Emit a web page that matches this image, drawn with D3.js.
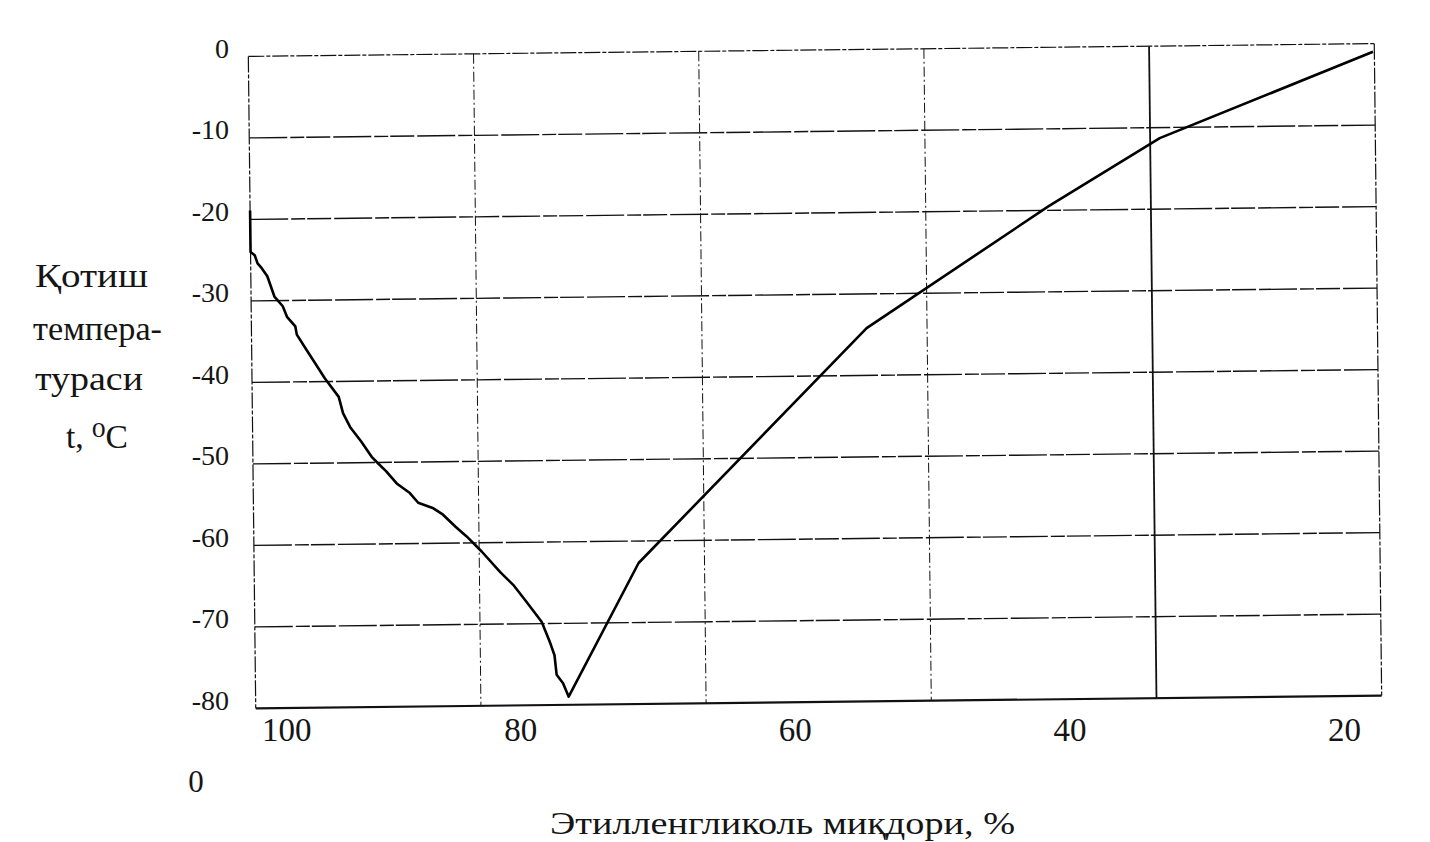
<!DOCTYPE html>
<html>
<head>
<meta charset="utf-8">
<script src="https://cdn.jsdelivr.net/npm/d3@7"></script>
<style>
  html, body { margin: 0; padding: 0; background: #fff; }
  svg { display: block; }
  text { font-family: "Liberation Serif", "DejaVu Serif", serif; fill: #151515; }
</style>
</head>
<body>
<svg id="chart" width="1430" height="842"></svg>
<script>
// ---- data ----
// Ethylene glycol content, % (x) and freezing temperature, °C (y)
const glycolPct = [100, 100, 99.7, 99.5, 99.2, 98.8, 98.3, 97.7, 97.4, 96.8, 96.7, 96.0, 95.4, 94.7,
  93.7, 93.4, 92.9, 92.1, 91.35, 90.9, 90.3, 89.55, 88.6, 88.0, 86.9, 86.2, 85.3, 84.5, 83.4,
  82.1, 81.15, 80.2, 79.1, 78.5, 78.2, 78.06, 77.6, 77.2, 72.0, 55.2, 41.9, 33.7, 18.1];
const freezeTemp = [-18.9, -24.0, -24.4, -25.4, -26.0, -27.0, -29.5, -30.7, -32.0, -33.2, -34.2, -36.1,
  -37.7, -39.6, -41.9, -43.9, -45.6, -47.4, -49.3, -50.1, -51.1, -52.6, -53.8, -55.0, -55.7, -56.5,
  -58.0, -59.2, -61.1, -63.6, -65.2, -67.3, -69.8, -72.4, -73.9, -76.3, -77.35, -79.0, -62.7, -34.2,
  -19.55, -11.3, -1.0];
const xTicks = [100, 80, 60, 40, 20];
const xGrid = [83.6, 67.2, 50.8, 34.4];
const yTicks = [0, -10, -20, -30, -40, -50, -60, -70, -80];
const yGrid = [-10, -20, -30, -40, -50, -60, -70];
const yTitleLines = ["Қотиш", "темпера-", "тураси", "t, \u2070C"];
const xTitle = "Этилленгликоль  миқдори, %";
const strayLabel = "0";

// ---- layout ----
const L = 252, R = 1378, T = 50, B = 702;
const cx = (L + R) / 2, cy = (T + B) / 2;
const skew = -0.65; // scanned page is slightly rotated

const x = d3.scaleLinear().domain([100, 18]).range([L, R]);
const y = d3.scaleLinear().domain([0, -80]).range([T, B]);

const svg = d3.select("#chart");
const g = svg.append("g").attr("transform", `rotate(${skew},${cx},${cy})`);

// horizontal grid lines
g.append("g").selectAll("line").data(yGrid).join("line")
  .attr("x1", L).attr("x2", R)
  .attr("y1", d => y(d)).attr("y2", d => y(d))
  .attr("stroke", "#111").attr("stroke-width", 1.4)
  .attr("stroke-dasharray", "38,3,14,2,24,3");

// vertical grid lines
g.append("g").selectAll("line").data(xGrid).join("line")
  .attr("x1", d => x(d)).attr("x2", d => x(d))
  .attr("y1", T).attr("y2", B)
  .attr("stroke", "#111")
  .attr("stroke-width", d => d === 34.4 ? 1.8 : 1)
  .attr("stroke-dasharray", d => d === 34.4 ? null : "10,3,2,3");

// frame
g.append("line").attr("x1", L).attr("x2", R).attr("y1", T).attr("y2", T)
  .attr("stroke", "#111").attr("stroke-width", 1.2).attr("stroke-dasharray", "16,2,4,2");
g.append("line").attr("x1", L).attr("x2", L).attr("y1", T).attr("y2", B)
  .attr("stroke", "#111").attr("stroke-width", 1.2).attr("stroke-dasharray", "16,2,4,2");
g.append("line").attr("x1", R).attr("x2", R).attr("y1", T).attr("y2", B)
  .attr("stroke", "#111").attr("stroke-width", 1.2).attr("stroke-dasharray", "16,2,4,2");
g.append("line").attr("x1", L).attr("x2", R).attr("y1", B).attr("y2", B)
  .attr("stroke", "#111").attr("stroke-width", 2.2);

// curve
const pts = glycolPct.map((v, i) => [v, freezeTemp[i]]);
g.append("path")
  .datum(pts)
  .attr("fill", "none")
  .attr("stroke", "#000")
  .attr("stroke-width", 2.6)
  .attr("stroke-linejoin", "round")
  .attr("d", d3.line().x(d => x(d[0])).y(d => y(d[1])));

// y tick labels
svg.append("g").selectAll("text").data(yTicks).join("text")
  .attr("x", 229)
  .attr("y", d => y(d) - 2)
  .attr("text-anchor", "end")
  .attr("dominant-baseline", "central")
  .attr("font-size", 28)
  .text(d => d === 0 ? "0" : "-" + Math.abs(d));

// x tick labels
svg.append("g").selectAll("text").data(xTicks).join("text")
  .attr("x", (d, i) => i === 0 ? x(d) + 10 : x(d) - 6)
  .attr("y", 741)
  .attr("text-anchor", (d, i) => i === 0 ? "start" : "middle")
  .attr("font-size", 33)
  .text(d => d);

// stray label under the axis
svg.append("text").attr("x", 196).attr("y", 792)
  .attr("text-anchor", "middle").attr("font-size", 31).text(strayLabel);

// y title (multi-line)
const yTitleX = [35, 33, 35, 66];
const yTitleW = [113, 129, 108, 62];
const yTitleY = [287, 340, 390, 448];
svg.append("g").selectAll("text").data(yTitleLines).join("text")
  .attr("x", (d, i) => yTitleX[i])
  .attr("y", (d, i) => yTitleY[i])
  .attr("font-size", 33)
  .attr("textLength", (d, i) => yTitleW[i])
  .attr("lengthAdjust", "spacingAndGlyphs")
  .text(d => d);

// x title
svg.append("text").attr("x", 550).attr("y", 834)
  .attr("font-size", 32)
  .attr("textLength", 465)
  .attr("lengthAdjust", "spacingAndGlyphs")
  .text(xTitle);
</script>
</body>
</html>
